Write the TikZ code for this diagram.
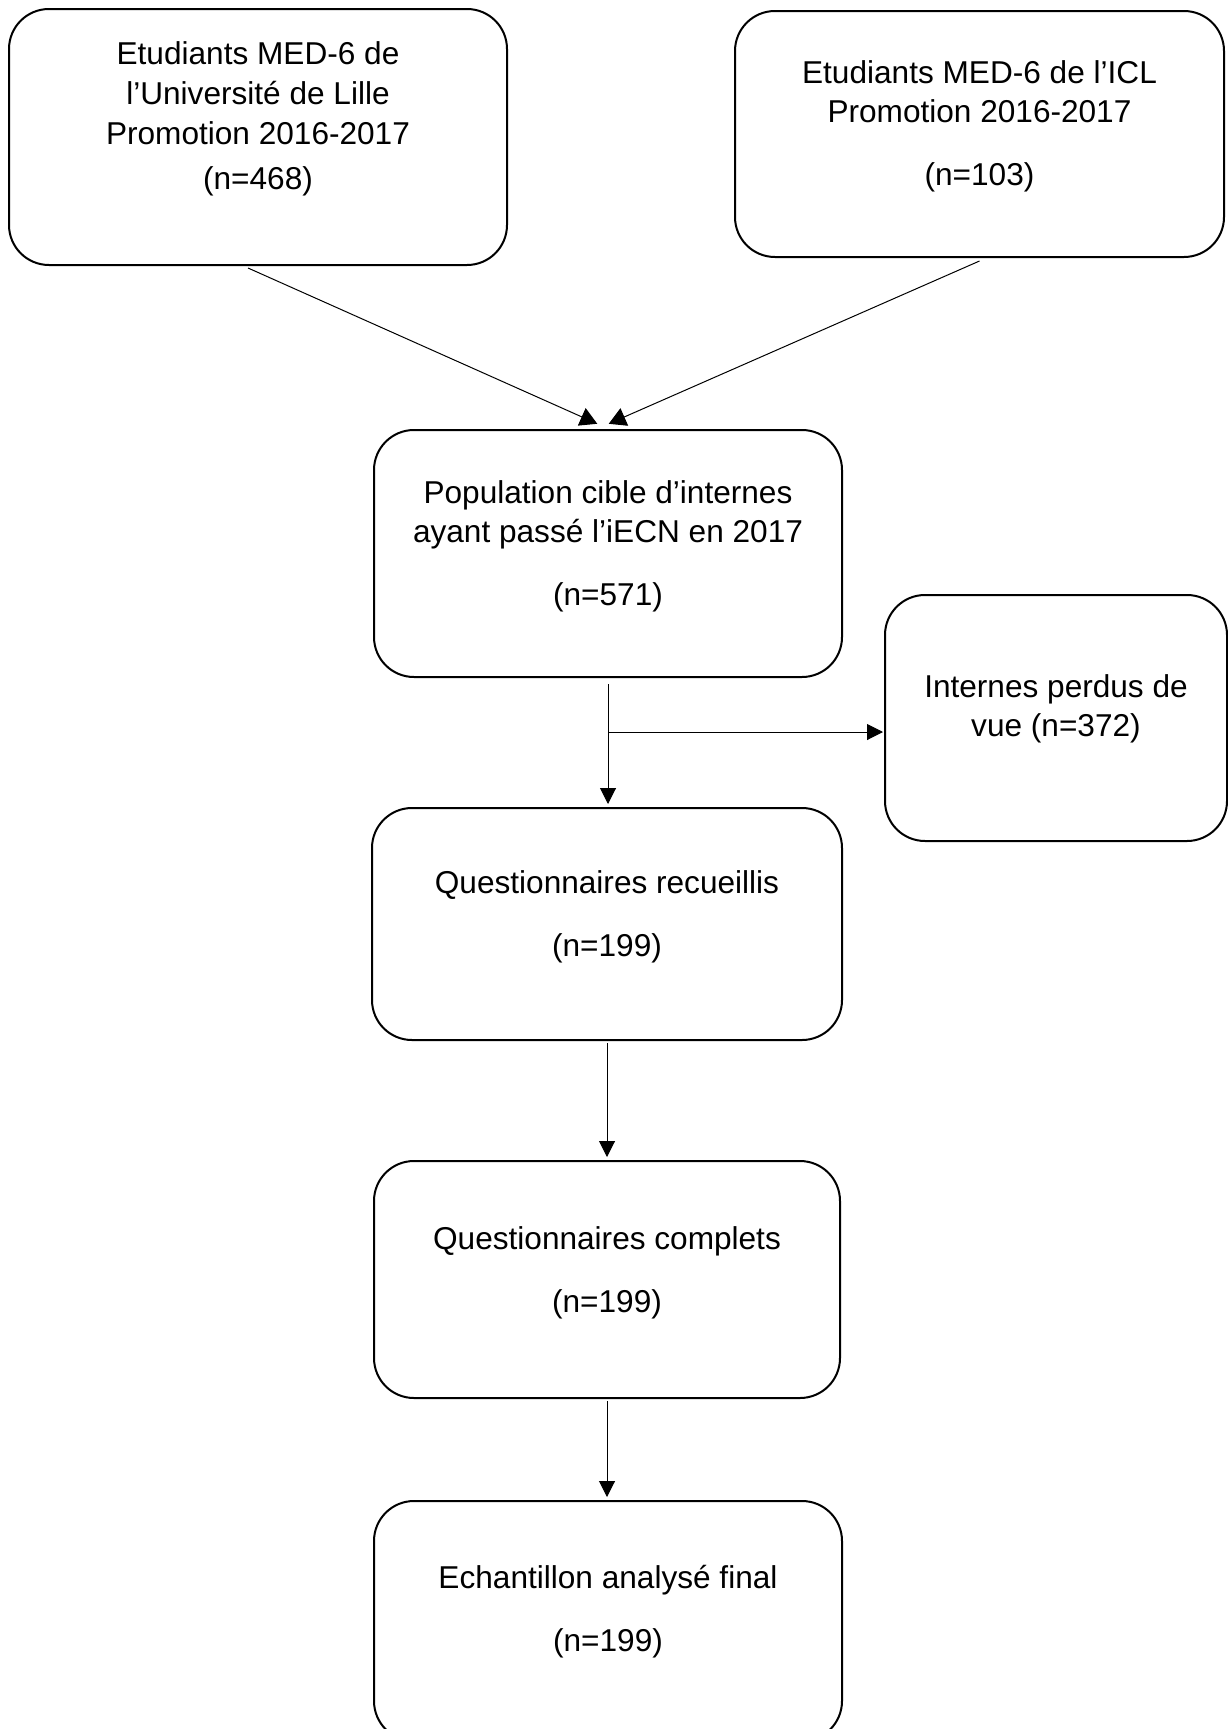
\documentclass[tikz,border=0pt]{standalone}
\usepackage{fontspec}
\setmainfont{Liberation Sans}
\usetikzlibrary{arrows.meta,positioning}
\tikzset{
  stagebox/.style={draw, line width=1pt, rounded corners=20pt, align=center,
    inner sep=0pt, text depth=10pt,
    font=\fontsize{15.8pt}{19.5pt}\selectfont},
  arr/.style={-{Triangle[length=8pt,width=8pt]}, line width=0.5pt,
    shorten >=1.5pt},
  mergearr/.style={arr, -{Triangle[length=8.5pt,width=9.5pt]}}
}

\begin{document}
\begin{tikzpicture}[x=0.5pt, y=-0.5pt]
    \useasboundingbox (0,0) rectangle (1227,1729);
    \node[stagebox, minimum width=249pt, minimum height=128pt, text depth=21.5pt] (lille) at (258,137)
      {Etudiants MED-6 de\\[0.5pt]l’Université de Lille\\[0.5pt]Promotion 2016-2017\\[3pt](n=468)};
    \node[stagebox, minimum width=244.5pt, minimum height=123pt, text depth=10.5pt] (icl) at (979.5,134)
      {Etudiants MED-6 de l’ICL\\Promotion 2016-2017\\[12pt](n=103)};
    \node[stagebox, minimum width=234pt, minimum height=123.5pt] (pop) at (608,553.5)
      {Population cible d’internes\\ayant passé l’iECN en 2017\\[12pt](n=571)};
    \node[stagebox, minimum width=171pt, minimum height=123pt, text depth=12pt] (perdus) at (1056,718)
      {Internes perdus de\\vue (n=372)};
    \node[stagebox, minimum width=235pt, minimum height=116pt] (recueil) at (607,924)
      {Questionnaires recueillis\\[12pt](n=199)};
    \node[stagebox, minimum width=233pt, minimum height=118.5pt, text depth=9.5pt] (complets) at (607,1279.5)
      {Questionnaires complets\\[12pt](n=199)};
    \node[stagebox, minimum width=234pt, minimum height=120pt, text depth=13pt] (final) at (608,1621)
      {Echantillon analysé final\\[12pt](n=199)};
    \coordinate (split) at ([yshift=-27pt]pop.south);
    % connectors
    \draw[mergearr] ([xshift=-5pt,yshift=-1pt]lille.south) -- ([xshift=-4pt,yshift=2pt]pop.north);
    \draw[mergearr] ([yshift=-1.5pt]icl.south) -- ([xshift=-1pt,yshift=2pt]pop.north);
    \draw[arr] ([yshift=-3pt]pop.south) -- (pop.south |- recueil.north);
    \draw[arr, shorten >=0.5pt] (split) -- (split -| perdus.west);
    \draw[arr] ([yshift=-1pt]recueil.south) -- (recueil.south |- complets.north);
    \draw[arr] ([yshift=-1pt]complets.south) -- (complets.south |- final.north);
\end{tikzpicture}
\end{document}
